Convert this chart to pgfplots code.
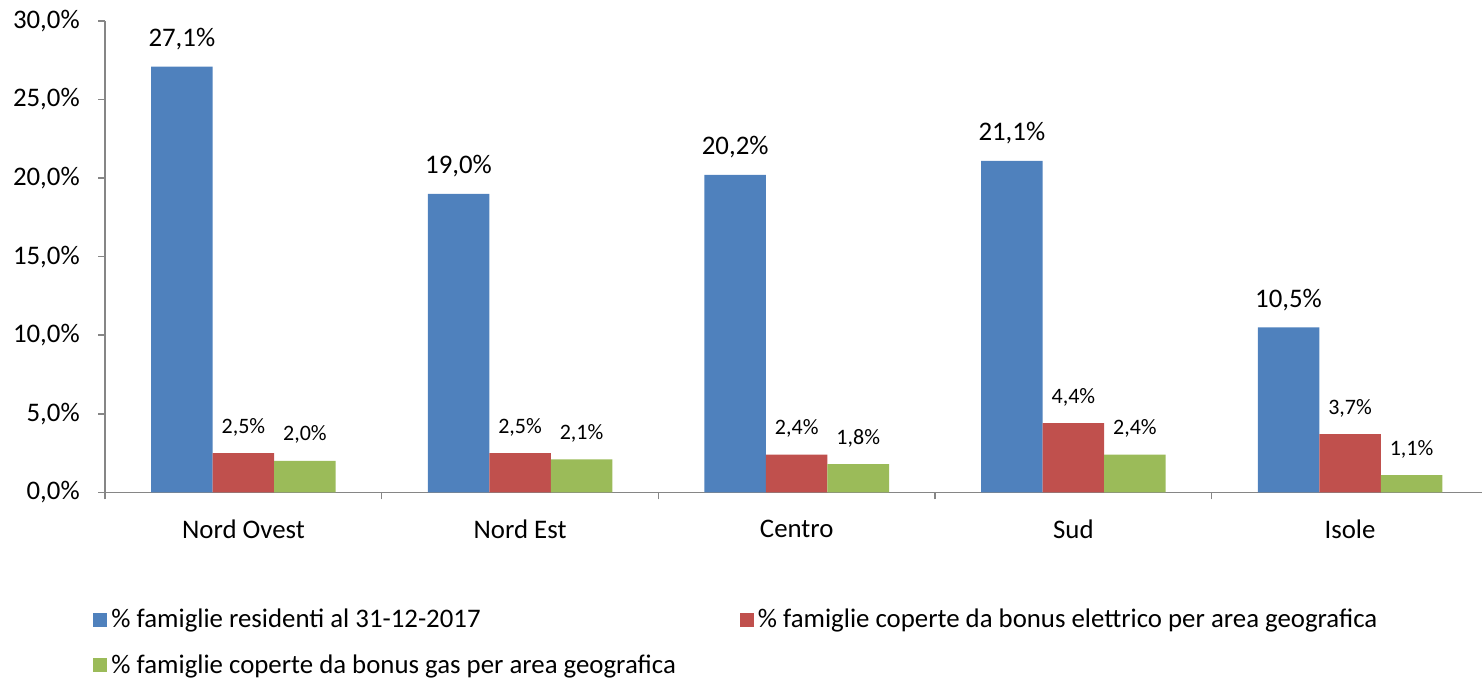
\documentclass[border=0pt]{standalone}
\usepackage{fontspec}
\setmainfont{Carlito}
\usepackage{pgfplots}
\pgfplotsset{compat=1.18}
\definecolor{cblue}{HTML}{4F81BD}
\definecolor{cred}{HTML}{C0504D}
\definecolor{cgreen}{HTML}{9BBB59}
\definecolor{axgray}{HTML}{868686}
\newcommand{\bigfont}{\fontsize{13.4}{15}\selectfont}
\newcommand{\smallfont}{\fontsize{11}{13}\selectfont}
\begin{document}
\begin{tikzpicture}
\begin{axis}[
    name=ax,
    scale only axis,
    width=688pt, height=235.5pt,
    ybar=0pt, bar width=0.2224,
    xmin=-0.5, xmax=4.477,
    ymin=0, ymax=30,
    axis lines*=left,
    axis line style={axgray, line width=0.75pt},
    tick align=outside,
    major tick length=3.5pt,
    minor tick length=3.5pt,
    tick style={axgray, line width=0.75pt},
    xtick={0,1,2,3,4},
    xticklabels={Nord Ovest, Nord Est, Centro, Sud, Isole},
    major x tick style={draw=none},
    minor xtick={-0.5,0.5,1.5,2.5,3.5},
    xticklabel style={font=\bigfont, inner sep=0pt, anchor=north, yshift=-10pt},
    ytick={0,5,...,30},
    yticklabel={\pgfmathprintnumber[fixed, fixed zerofill, precision=1, use comma]{\tick}\%},
    yticklabel style={font=\bigfont, inner sep=0pt, anchor=east, xshift=-9pt},
    /pgf/number format/assume math mode=true,
    nodes near coords={\pgfmathprintnumber[fixed, fixed zerofill, precision=1, use comma, assume math mode=true]{\pgfplotspointmeta}\%},
    every node near coord/.append style={anchor=base, inner sep=0pt, yshift=10pt, black},
    legend columns=2,
    legend cell align=left,
    legend image code/.code={\fill[#1] (0pt,-3.5pt) rectangle (7pt,3.5pt);},
    legend style={at={(axis description cs:0,0)}, anchor=north west, xshift=-6pt, yshift=-56pt,
        draw=none, fill=none, inner sep=0pt, font=\bigfont, row sep=8pt,
        /tikz/every even column/.append style={column sep=30pt}},
]
\addplot[fill=cblue, draw=none, nodes near coords style={font=\bigfont}] coordinates {(0,27.1) (1,19.0) (2,20.2) (3,21.1) (4,10.5)};
\addplot[fill=cred, draw=none, nodes near coords style={font=\smallfont}] coordinates {(0,2.5) (1,2.5) (2,2.4) (3,4.4) (4,3.7)};
\addplot[fill=cgreen, draw=none, nodes near coords style={font=\smallfont}] coordinates {(0,2.0) (1,2.1) (2,1.8) (3,2.4) (4,1.1)};
\legend{\% famiglie residenti al 31-12-2017, \% famiglie coperte da bonus elettrico per area geografica, \% famiglie coperte da bonus gas per area geografica}
\end{axis}
\pgfresetboundingbox
\path[use as bounding box] ([xshift=-52.5pt,yshift=-94.5pt]ax.south west) rectangle ([yshift=10.5pt]ax.north east);
\end{tikzpicture}
\end{document}
